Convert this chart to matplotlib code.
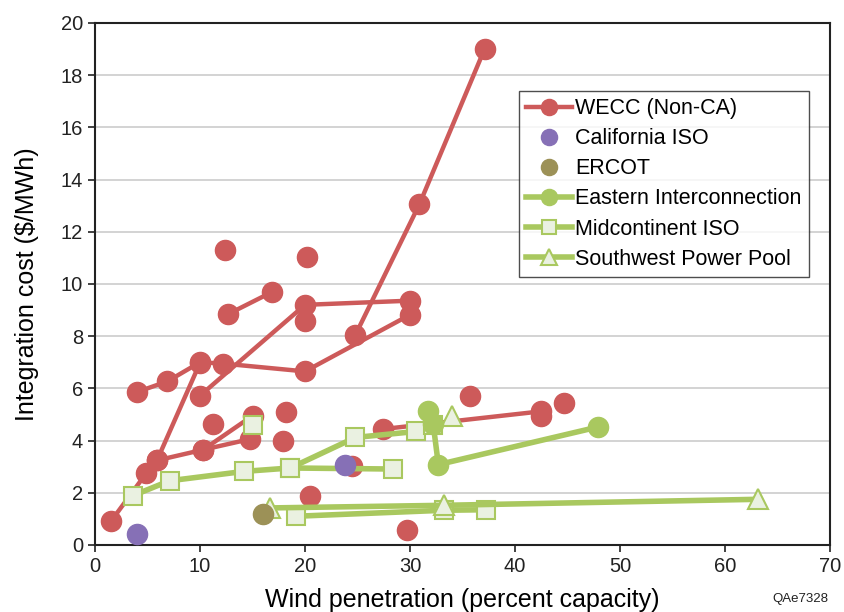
import matplotlib
matplotlib.use('Agg')
import matplotlib.pyplot as plt

plt.rcParams['font.family'] = ['Liberation Sans', 'DejaVu Sans']

# WECC (Non-CA) studies: each list is one connected study
wecc_segments = [
    ([12.7, 16.9], [8.85, 9.7]),
    ([10.0, 20.0, 30.0], [5.72, 9.2, 9.36]),
    ([4.0, 6.9, 10.0, 12.2, 20.0, 30.0], [5.86, 6.27, 7.0, 6.95, 6.65, 8.82]),
    ([24.8, 30.9, 37.1], [8.05, 13.06, 19.0]),
    ([1.5, 4.9, 5.9, 10.0], [0.9, 2.76, 3.24, 6.98]),
    ([5.9, 10.3, 14.8], [3.24, 3.65, 4.06]),
    ([10.3, 15.0], [3.65, 4.95]),
    ([27.4, 42.5], [4.44, 5.12]),
]
wecc_points_x = [12.4, 20.2, 18.2, 11.2, 17.9, 20.5, 29.7, 24.5, 35.7, 44.7, 42.5, 20.0]
wecc_points_y = [11.3, 11.05, 5.1, 4.63, 3.98, 1.86, 0.56, 3.01, 5.69, 5.43, 4.93, 8.57]

caiso_x = [4.0, 23.8]
caiso_y = [0.43, 3.08]

ercot_x = [16.0]
ercot_y = [1.19]

eastern_x = [31.7, 32.2, 32.7, 47.9]
eastern_y = [5.12, 4.65, 3.08, 4.52]

miso_segments = [
    ([3.6, 7.1, 14.2, 18.6, 28.4], [1.89, 2.46, 2.82, 2.95, 2.91]),
    ([18.6, 24.8, 30.6, 32.2], [2.95, 4.12, 4.35, 4.6]),
    ([19.1, 33.2, 37.2], [1.1, 1.33, 1.35]),
    ([15.0], [4.61]),
]

spp_segments = [
    ([16.7, 33.2, 63.1], [1.42, 1.52, 1.75]),
    ([34.0], [4.95]),
]

red = '#CD5A5A'
purple = '#8670B6'
olive = '#9C9157'
green = '#A9C85F'
sq_face = '#EAF1E1'

fig = plt.figure(figsize=(8.44, 6.12), dpi=100)
ax = fig.add_axes([0.1126, 0.1095, 0.8708, 0.853])

for i, (xs, ys) in enumerate(wecc_segments):
    ax.plot(xs, ys, color=red, lw=3.2, marker='o', ms=14.5, mec=red, mfc=red,
            zorder=3, label='WECC (Non-CA)' if i == 0 else None)
ax.plot(wecc_points_x, wecc_points_y, ls='none', marker='o', ms=14.5, color=red, zorder=3)

for i, (xs, ys) in enumerate(miso_segments):
    ax.plot(xs, ys, color=green, lw=4, marker='s', ms=12.5, mfc=sq_face, mec=green,
            mew=1.5, zorder=4, label='Midcontinent ISO' if i == 0 else None)

ax.plot(eastern_x, eastern_y, color=green, lw=4, marker='o', ms=14.5, mfc=green,
        mec=green, zorder=5, label='Eastern Interconnection')

for i, (xs, ys) in enumerate(spp_segments):
    ax.plot(xs, ys, color=green, lw=4, marker='^', ms=15, mfc=sq_face, mec=green,
            mew=1.5, zorder=4, label='Southwest Power Pool' if i == 0 else None)

ax.plot(caiso_x, caiso_y, ls='none', marker='o', ms=14.5, color=purple, zorder=6,
        label='California ISO')
ax.plot(ercot_x, ercot_y, ls='none', marker='o', ms=14.5, color=olive, zorder=6,
        label='ERCOT')

ax.set_xlim(0, 70)
ax.set_ylim(0, 20)
ax.set_xticks(range(0, 71, 10))
ax.set_yticks(range(0, 21, 2))
ax.yaxis.grid(True, color='#CCCCCC', lw=1.2)
ax.set_axisbelow(True)
ax.tick_params(direction='out', length=5, width=1.2, labelsize=14.5, colors='#222222')
for s in ax.spines.values():
    s.set_linewidth(1.5)
    s.set_color('#222222')

ax.set_xlabel('Wind penetration (percent capacity)', fontsize=18, labelpad=9)
ax.set_ylabel(r'Integration cost (\$/MWh)', fontsize=18, labelpad=16)

handles, labels = ax.get_legend_handles_labels()
order = ['WECC (Non-CA)', 'California ISO', 'ERCOT', 'Eastern Interconnection',
         'Midcontinent ISO', 'Southwest Power Pool']
hmap = dict(zip(labels, handles))
leg = ax.legend([hmap[k] for k in order], order, loc='upper right',
                bbox_to_anchor=(0.971, 0.87), borderaxespad=0, fontsize=15.5,
                frameon=True, fancybox=False, edgecolor='#222222',
                handlelength=2.1, handletextpad=0.15, labelspacing=0.42,
                borderpad=0.35, markerscale=0.8)
leg.get_frame().set_linewidth(1.0)

fig.text(0.982, 0.012, 'QAe7328', ha='right', va='bottom', fontsize=9.5, color='#222222')

fig.savefig('out.png', dpi=100)
